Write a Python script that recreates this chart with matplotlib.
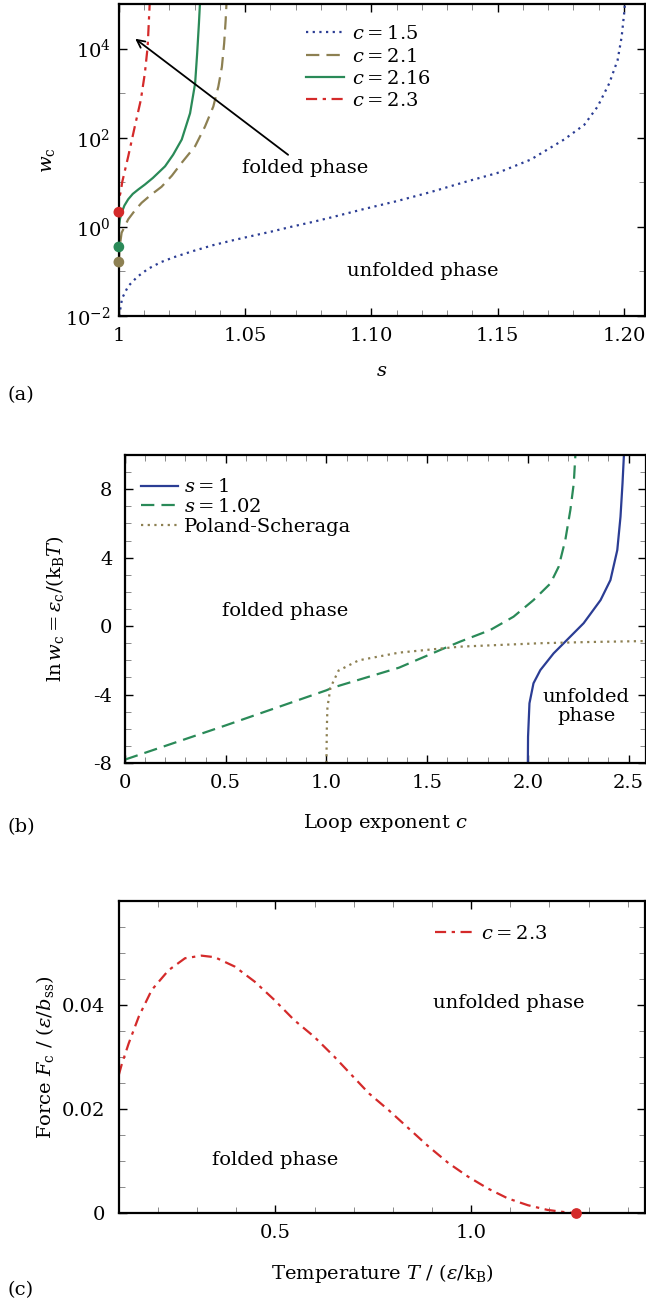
import numpy as np
import matplotlib
matplotlib.use("Agg")
import matplotlib.pyplot as plt
from matplotlib.ticker import FixedLocator, MultipleLocator, FuncFormatter

plt.rcParams['font.family'] = ['DejaVu Serif']
plt.rcParams['mathtext.fontset'] = 'dejavuserif'
plt.rcParams['axes.unicode_minus'] = False
plt.rcParams['font.size'] = 14

# ---- data panel (a): s vs log10(w_c) ----
s_15 = [1.0, 1.0004, 1.0013, 1.0037, 1.0073, 1.0116, 1.0167, 1.0218, 1.0295, 1.0373, 1.0452,
        1.0529, 1.0608, 1.0688, 1.0767, 1.0846, 1.0970, 1.1102, 1.1234, 1.1366, 1.1499,
        1.1631, 1.1763, 1.1843, 1.1896, 1.1942, 1.1975, 1.1991, 1.2001, 1.2004]
lw_15 = [-2.0, -1.90, -1.60, -1.33, -1.12, -0.94, -0.79, -0.68, -0.54, -0.41, -0.30,
         -0.20, -0.10, 0.01, 0.11, 0.22, 0.40, 0.58, 0.78, 1.00, 1.21,
         1.51, 1.96, 2.29, 2.70, 3.22, 3.74, 4.26, 4.79, 5.0]
s_21 = [1.0, 1.0003, 1.0011, 1.0037, 1.0065, 1.009, 1.0125, 1.0169, 1.021, 1.0249, 1.0302,
        1.0341, 1.0374, 1.0394, 1.0408, 1.0417, 1.0423, 1.0426]
lw_21 = [-0.79, -0.45, -0.13, 0.17, 0.38, 0.54, 0.71, 0.90, 1.15, 1.44, 1.81,
         2.25, 2.70, 3.15, 3.59, 4.12, 4.64, 5.0]
s_216 = [1.0, 1.0, 1.0004, 1.0011, 1.0022, 1.0037, 1.0055, 1.0077, 1.0103, 1.0135, 1.0183,
         1.0215, 1.0249, 1.0282, 1.0302, 1.031, 1.0317, 1.0321]
lw_216 = [-0.45, -0.01, 0.17, 0.32, 0.48, 0.62, 0.74, 0.84, 0.95, 1.10, 1.36,
          1.62, 1.96, 2.55, 3.22, 3.89, 4.56, 5.0]
s_23 = [1.0, 1.0, 1.0008, 1.0013, 1.0037, 1.0063, 1.0087, 1.0103, 1.0114, 1.0119, 1.0122]
lw_23 = [0.33, 0.62, 0.80, 1.00, 1.58, 2.25, 2.85, 3.45, 4.04, 4.64, 5.0]
dots_a = [0.33, -0.45, -0.79]

# ---- data panel (b): c vs ln w_c ----
c_s1 = [2.0, 2.001, 2.008, 2.028, 2.062, 2.095, 2.128, 2.195, 2.277, 2.361, 2.410, 2.444,
        2.460, 2.47, 2.477]
y_s1 = [-8.0, -6.46, -4.51, -3.34, -2.57, -2.08, -1.59, -0.80, 0.17, 1.52, 2.69, 4.44,
        6.39, 8.34, 10.0]
c_s102 = [0.0, 0.5, 1.0, 1.03, 1.36, 1.564, 1.663, 1.813, 1.929, 2.028, 2.112, 2.153, 2.186,
          2.211, 2.228, 2.236]
y_s102 = [-7.8, -5.8, -3.75, -3.6, -2.43, -1.40, -0.91, -0.23, 0.55, 1.52, 2.49, 3.47, 5.03,
          6.78, 8.34, 10.0]
c_ps = [1.0, 1.002, 1.005, 1.02, 1.06, 1.16, 1.36, 1.663, 2.062, 2.3, 2.6]
y_ps = [-8.0, -6.0, -4.75, -3.6, -2.6, -2.0, -1.55, -1.2, -1.0, -0.93, -0.87]

# ---- data panel (c): T vs F_c ----
T_c = [0.1, 0.107, 0.125, 0.151, 0.184, 0.227, 0.269, 0.311, 0.345, 0.396, 0.447, 0.497,
       0.548, 0.599, 0.650, 0.675, 0.739, 0.789, 0.840, 0.891, 0.942, 0.992, 1.043, 1.094,
       1.145, 1.195, 1.246, 1.267]
F_c = [0.0266, 0.0285, 0.0326, 0.0378, 0.0429, 0.0467, 0.0490, 0.0495, 0.0492, 0.0474, 0.0445,
       0.0410, 0.0371, 0.0339, 0.0301, 0.0281, 0.0230, 0.0198, 0.0163, 0.0128, 0.0096, 0.0070,
       0.0047, 0.0028, 0.0015, 0.0006, 0.0001, 0.0]

blue = '#2b3d94'
olive = '#8d8052'
green = '#2a8a58'
red = '#d42a2a'

fig = plt.figure(figsize=(6.46, 13.07), dpi=100)


def style(ax, ypad):
    for sp in ax.spines.values():
        sp.set_linewidth(1.6)
    ax.tick_params(which='both', direction='in', top=True, right=True)
    ax.tick_params(which='major', length=6, width=1.0)
    ax.tick_params(which='minor', length=4, width=0.6, color='#777777')
    ax.tick_params(axis='x', which='major', pad=8)
    ax.tick_params(axis='y', which='major', pad=ypad)


# panel (a)
ax1 = fig.add_axes([0.184, 0.7582, 0.815, 0.2387])
ax1.plot(s_15, np.power(10.0, lw_15), ':', color=blue, lw=1.6, dashes=(1, 2), label='$c = 1.5$')
ax1.plot(s_21, np.power(10.0, lw_21), '--', color=olive, lw=1.6, dashes=(6, 3.2), label='$c = 2.1$')
ax1.plot(s_216, np.power(10.0, lw_216), '-', color=green, lw=1.6, label='$c = 2.16$')
ax1.plot(s_23, np.power(10.0, lw_23), '-.', color=red, lw=1.6, dashes=(5, 2.5, 1.5, 2.5), label='$c = 2.3$')
ax1.scatter([1.0, 1.0, 1.0], np.power(10.0, dots_a), color=[red, green, olive], s=45, zorder=5, clip_on=False)
ax1.set_yscale('log')
ax1.set_xlim(1.0, 1.2085)
ax1.set_ylim(1e-2, 1e5)
ax1.xaxis.set_major_locator(FixedLocator([1.0, 1.05, 1.10, 1.15, 1.20]))
ax1.xaxis.set_minor_locator(MultipleLocator(0.01))
ax1.xaxis.set_major_formatter(FuncFormatter(lambda v, p: '1' if abs(v - 1) < 1e-9 else '%.2f' % v))
ax1.yaxis.set_major_locator(FixedLocator([1e-2, 1e0, 1e2, 1e4]))
ax1.yaxis.set_minor_locator(FixedLocator([1e-1, 1e1, 1e3]))
ax1.yaxis.set_major_formatter(FuncFormatter(lambda v, p: '$10^{%d}$' % round(np.log10(v))))
ax1.yaxis.set_minor_formatter(FuncFormatter(lambda v, p: ''))
style(ax1, 6)
ax1.set_xlabel('$s$', labelpad=12)
ax1.set_ylabel(r'$w_\mathrm{c}$', labelpad=6)
ax1.annotate('', xy=(1.0056, 10 ** 4.26), xytext=(1.0679, 10 ** 1.58),
             arrowprops=dict(arrowstyle='->', color='black', lw=1.3))
ax1.text(1.0738, 10 ** 1.33, 'folded phase', ha='center', va='center')
ax1.text(1.1202, 10 ** -0.99, 'unfolded phase', ha='center', va='center')
ax1.legend(loc='upper left', bbox_to_anchor=(0.34, 0.957), frameon=False, handlelength=1.96,
           handletextpad=0.4, labelspacing=0.22, borderaxespad=0)

# panel (b)
ax2 = fig.add_axes([0.1935, 0.4162, 0.806, 0.2357])
ax2.plot(c_s1, y_s1, '-', color=blue, lw=1.6, label='$s = 1$')
ax2.plot(c_s102, y_s102, '--', color=green, lw=1.6, dashes=(6, 3.2), label='$s = 1.02$')
ax2.plot(c_ps, y_ps, ':', color=olive, lw=1.6, dashes=(1, 2), label='Poland-Scheraga')
ax2.set_xlim(0, 2.585)
ax2.set_ylim(-8, 10)
ax2.xaxis.set_major_locator(MultipleLocator(0.5))
ax2.xaxis.set_minor_locator(MultipleLocator(0.1))
ax2.xaxis.set_major_formatter(FuncFormatter(lambda v, p: '0' if abs(v) < 1e-9 else '%.1f' % v))
ax2.yaxis.set_major_locator(FixedLocator([-8, -4, 0, 4, 8]))
ax2.yaxis.set_minor_locator(MultipleLocator(1))
style(ax2, 9)
ax2.set_xlabel('Loop exponent $c$', labelpad=14)
ax2.set_ylabel(r'$\ln w_\mathrm{c} = \varepsilon_\mathrm{c}/(\mathrm{k_B}T)$', labelpad=20)
ax2.text(0.797, 0.87, 'folded phase', ha='center', va='center')
ax2.text(2.29, -4.7, 'unfolded\nphase', ha='center', va='center', linespacing=1.1)
ax2.legend(loc='upper left', bbox_to_anchor=(0.008, 0.962), frameon=False, handlelength=1.9,
           handletextpad=0.3, labelspacing=0.1, borderaxespad=0.2)

# panel (c)
ax3 = fig.add_axes([0.184, 0.0719, 0.815, 0.2387])
ax3.plot(T_c, F_c, '-.', color=red, lw=1.6, dashes=(5, 2.5, 1.5, 2.5), label='$c = 2.3$')
ax3.scatter([T_c[-1]], [F_c[-1]], color=red, s=45, zorder=5, clip_on=False)
ax3.set_xlim(0.1, 1.445)
ax3.set_ylim(0, 0.06)
ax3.xaxis.set_major_locator(FixedLocator([0.5, 1.0]))
ax3.xaxis.set_minor_locator(MultipleLocator(0.1))
ax3.yaxis.set_major_locator(FixedLocator([0, 0.02, 0.04]))
ax3.yaxis.set_minor_locator(MultipleLocator(0.005))
ax3.yaxis.set_major_formatter(FuncFormatter(lambda v, p: '0' if abs(v) < 1e-12 else '%.2f' % v))
style(ax3, 10)
ax3.set_xlabel(r'Temperature $T$ / $(\varepsilon/\mathrm{k_B})$', labelpad=14)
ax3.set_ylabel(r'Force $F_\mathrm{c}$ / $(\varepsilon/b_\mathrm{ss})$', labelpad=4)
ax3.text(0.498, 0.0102, 'folded phase', ha='center', va='center')
ax3.text(1.097, 0.0404, 'unfolded phase', ha='center', va='center')
ax3.legend(loc='upper left', bbox_to_anchor=(0.579, 0.962), frameon=False, handlelength=1.96,
           handletextpad=0.4, borderaxespad=0.2)

fig.text(0.012, 1 - 395 / 1307, '(a)', ha='left', va='center')
fig.text(0.012, 1 - 827 / 1307, '(b)', ha='left', va='center')
fig.text(0.012, 1 - 1290 / 1307, '(c)', ha='left', va='center')

fig.savefig('out.png', dpi=100)
